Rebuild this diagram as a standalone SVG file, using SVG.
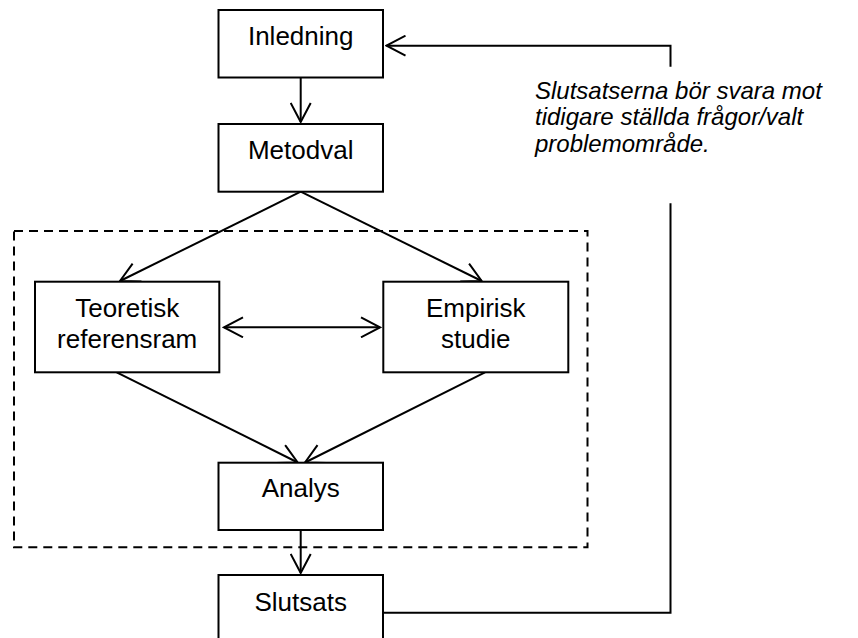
<svg xmlns="http://www.w3.org/2000/svg" width="858" height="638" viewBox="0 0 858 638">
  <defs>
    <style>
      .box { fill: #ffffff; stroke: #000000; stroke-width: 2; }
      .lbl { font-family: "Liberation Sans", Arial, sans-serif; font-size: 26px; fill: #000000; text-anchor: middle; }
      .note { font-family: "Liberation Sans", Arial, sans-serif; font-size: 24px; font-style: italic; fill: #000000; }
      .edge { fill: none; stroke: #000000; stroke-width: 2; }
      .frame { fill: none; stroke: #000000; stroke-width: 2; stroke-dasharray: 9 6; }
    </style>
    <marker id="open" viewBox="0 0 22 22" markerUnits="userSpaceOnUse" markerWidth="22" markerHeight="22" refX="20" refY="11" orient="auto-start-reverse">
      <path d="M1,1 L20,11 L1,21" fill="none" stroke="#000000" stroke-width="2"/>
    </marker>
  </defs>
  <rect width="858" height="638" fill="#ffffff"/>

  <!-- dashed grouping frame -->
  <rect class="frame" x="14" y="231" width="573.5" height="316.3"/>

  <g id="connectors">
    <line class="edge" x1="300.7" y1="77.5" x2="300.7" y2="122" marker-end="url(#open)"/>
    <line class="edge" x1="300.7" y1="191.7" x2="120" y2="281" marker-end="url(#open)"/>
    <line class="edge" x1="300.7" y1="191.7" x2="481.7" y2="281" marker-end="url(#open)"/>
    <line class="edge" x1="224" y1="327.3" x2="380" y2="327.3" marker-start="url(#open)" marker-end="url(#open)"/>
    <line class="edge" x1="116.7" y1="372.3" x2="297.7" y2="462.5" marker-end="url(#open)"/>
    <line class="edge" x1="485" y1="372.3" x2="305" y2="462.5" marker-end="url(#open)"/>
    <line class="edge" x1="300.7" y1="530" x2="300.7" y2="573" marker-end="url(#open)"/>
    <path class="edge" d="M383,612.7 H670.5 V203.3"/>
    <path class="edge" d="M670.5,66.7 V45.7 H386.5" marker-end="url(#open)"/>
  </g>

  <g id="inledning">
    <rect class="box" x="218.5" y="10" width="164.5" height="67.5"/>
    <text class="lbl" x="300.7" y="45">Inledning</text>
  </g>
  <g id="metodval">
    <rect class="box" x="218.5" y="124" width="164.5" height="67.7"/>
    <text class="lbl" x="300.7" y="159">Metodval</text>
  </g>
  <g id="teoretisk">
    <rect class="box" x="35" y="281.7" width="184.3" height="90.6"/>
    <text class="lbl" x="127.2" y="316.7">Teoretisk</text>
    <text class="lbl" x="127.2" y="347.7">referensram</text>
  </g>
  <g id="empirisk">
    <rect class="box" x="383.3" y="281.7" width="185" height="90.6"/>
    <text class="lbl" x="475.8" y="316.7">Empirisk</text>
    <text class="lbl" x="475.8" y="347.7">studie</text>
  </g>
  <g id="analys">
    <rect class="box" x="218.5" y="462.7" width="164.5" height="67.3"/>
    <text class="lbl" x="300.7" y="497">Analys</text>
  </g>
  <g id="slutsats">
    <rect class="box" x="218.5" y="575" width="164.5" height="70"/>
    <text class="lbl" x="300.7" y="610.7">Slutsats</text>
  </g>

  <g id="note">
    <text class="note" x="535" y="98.5">Slutsatserna bör svara mot</text>
    <text class="note" x="535" y="125">tidigare ställda frågor/valt</text>
    <text class="note" x="535" y="151.5">problemområde.</text>
  </g>
</svg>
